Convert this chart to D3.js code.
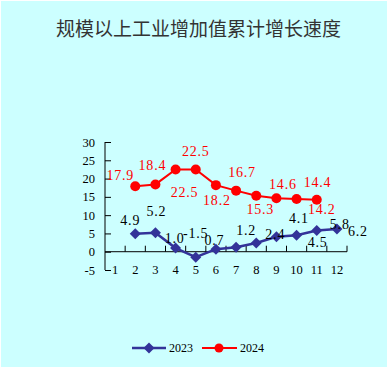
<!DOCTYPE html>
<html><head><meta charset="utf-8">
<script src="https://cdn.jsdelivr.net/npm/d3@7"></script>
<style>html,body{margin:0;padding:0;background:#fff;}svg{display:block;}</style>
</head><body>
<script>
const title = "规模以上工业增加值累计增长速度";
const months = ["1","2","3","4","5","6","7","8","9","10","11","12"];
const seriesNames = ["2023", "2024"];
const values2023 = [null, 4.9, 5.2, 1.0, -1.5, 0.7, 1.2, 2.4, 4.1, 4.5, 5.8, 6.2];
const values2024 = [null, 17.9, 18.4, 22.5, 22.5, 18.2, 16.7, 15.3, 14.6, 14.4, 14.2, null];
const yTicks = [-5, 0, 5, 10, 15, 20, 25, 30];
// label placement (offset of label centre from its point, px)
const labelOffsets2023 = [null,[-5,-13],[1,-21],[-1,-10],[0,-24],[-1.5,-9],[10,-16.5],[19,-8],[22.5,-18.5],[21,7.5],[23,-6],[21,2]];
const labelOffsets2024 = [null,[-15,-11],[-3,-19],[9,23],[0,-18],[1,15],[6,-18.5],[4,13.5],[6.5,-13.5],[21,-17],[5,9.5],null];

const W = 388, H = 368;
const svg = d3.select("body").append("svg").attr("width", W).attr("height", H);
svg.append("rect").attr("x",1).attr("y",1).attr("width",W-2).attr("height",H-2).attr("fill","#ccffff");

svg.append("text").attr("x",198.5).attr("y",27.5).attr("text-anchor","middle")
  .attr("dominant-baseline","central")
  .style("font-family","'Noto Sans CJK SC'").style("font-size","19px").style("fill","#333")
  .text(title);

const x = d3.scaleBand().domain(months).range([105, 347]).paddingInner(0).paddingOuter(0);
const y = d3.scaleLinear().domain([-5, 30]).range([270, 142]);
const cx = m => x(m) + x.bandwidth()/2;

const serif = "'Liberation Serif','Times New Roman',serif";
// y axis
const yAxis = d3.axisLeft(y).tickValues(yTicks).tickSize(-6).tickPadding(10).tickFormat(d => String(d));
const gy = svg.append("g").attr("transform","translate(105,0)").call(yAxis);
gy.select(".domain").attr("d", `M0,${y(30)}V${y(-5)}`).attr("stroke","#000");
gy.selectAll(".tick line").attr("stroke","#000");
gy.selectAll(".tick text").style("font-family",serif).style("font-size","12.5px").attr("fill","#000");

// x axis at zero
const gx = svg.append("g");
gx.append("line").attr("x1",105).attr("x2",347).attr("y1",y(0)).attr("y2",y(0)).attr("stroke","#000");
months.forEach(m => {
  const bx = x(m) + x.bandwidth();
  gx.append("line").attr("x1",bx).attr("x2",bx).attr("y1",y(0)).attr("y2",y(0)-6).attr("stroke","#000");
});
gx.selectAll("text.xl").data(months).join("text").attr("class","xl")
  .attr("x", d => cx(d)).attr("y", y(-5)).attr("text-anchor","middle").attr("dominant-baseline","central")
  .style("font-family",serif).style("font-size","12.5px").attr("fill","#000").text(d => d);

const blue = "#333399", red = "#ff0000";
const line = d3.line().defined(d => d.v != null).x(d => cx(d.m)).y(d => y(d.v));
const d23 = months.map((m,i) => ({m, v: values2023[i], o: labelOffsets2023[i]}));
const d24 = months.map((m,i) => ({m, v: values2024[i], o: labelOffsets2024[i]}));
const diamond = "M0,-5.5L5.5,0L0,5.5L-5.5,0Z";

svg.append("path").datum(d23).attr("d", line).attr("fill","none").attr("stroke",blue).attr("stroke-width",2.5);
svg.selectAll("path.dm").data(d23.filter(d => d.v != null)).join("path").attr("class","dm")
  .attr("d", diamond).attr("transform", d => `translate(${cx(d.m)},${y(d.v)})`).attr("fill",blue);

svg.append("path").datum(d24).attr("d", line).attr("fill","none").attr("stroke",red).attr("stroke-width",2);
svg.selectAll("circle.pt").data(d24.filter(d => d.v != null)).join("circle").attr("class","pt")
  .attr("cx", d => cx(d.m)).attr("cy", d => y(d.v)).attr("r",5).attr("fill",red);

const fmt = d3.format(".1f");
function labels(data, color, cls){
  svg.selectAll("text."+cls).data(data.filter(d => d.v != null)).join("text").attr("class",cls)
    .attr("x", d => cx(d.m) + d.o[0]).attr("y", d => y(d.v) + d.o[1])
    .attr("text-anchor","middle").attr("dominant-baseline","central")
    .style("font-family",serif).style("font-size","14px").style("letter-spacing","0.8px")
    .attr("fill", color).text(d => fmt(d.v).replace("−","-"));
}
labels(d23, "#000", "l23");
labels(d24, red, "l24");

// legend
const lg = svg.append("g");
lg.append("line").attr("x1",132).attr("x2",166).attr("y1",348).attr("y2",348).attr("stroke",blue).attr("stroke-width",2.5);
lg.append("path").attr("d",diamond).attr("transform","translate(149,348)").attr("fill",blue);
lg.append("text").attr("x",169).attr("y",348).attr("dominant-baseline","central")
  .style("font-family",serif).style("font-size","12px").attr("fill","#000").text(seriesNames[0]);
lg.append("line").attr("x1",202).attr("x2",237).attr("y1",348).attr("y2",348).attr("stroke",red).attr("stroke-width",2);
lg.append("circle").attr("cx",219).attr("cy",348).attr("r",4.5).attr("fill",red);
lg.append("text").attr("x",240).attr("y",348).attr("dominant-baseline","central")
  .style("font-family",serif).style("font-size","12px").attr("fill","#000").text(seriesNames[1]);
</script>
</body></html>
